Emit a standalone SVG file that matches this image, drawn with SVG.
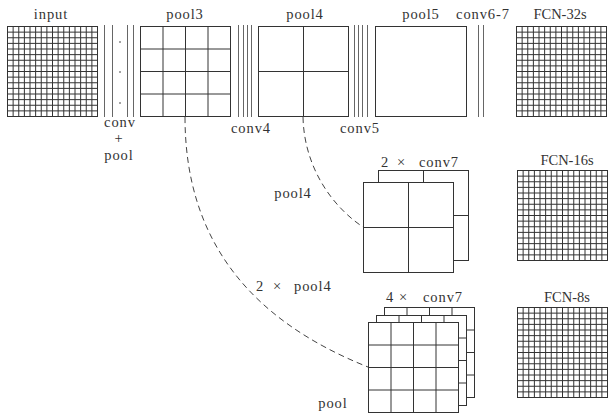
<svg xmlns="http://www.w3.org/2000/svg" xmlns:xlink="http://www.w3.org/1999/xlink" width="608" height="414" viewBox="0 0 608 414">
<style>
.t{font-family:"Liberation Serif","DejaVu Serif",serif;font-size:14.5px;fill:#333;letter-spacing:0.9px}
.u{letter-spacing:0}
.m{text-anchor:middle}
.gl{fill:#fff;stroke:#333;stroke-width:1}
.fl{fill:none;stroke:#333;stroke-width:1}
.cv{stroke:#666;stroke-width:1;fill:none}
.dash{fill:none;stroke:#444;stroke-width:1;stroke-dasharray:6 4}
</style>
<defs>
<g id="fine">
<rect class="gl" x="0" y="0" width="90" height="90"/>
<path class="fl" d="M5.625 0V90M11.25 0V90M16.875 0V90M22.5 0V90M28.125 0V90M33.75 0V90M39.375 0V90M45 0V90M50.625 0V90M56.25 0V90M61.875 0V90M67.5 0V90M73.125 0V90M78.75 0V90M84.375 0V90M0 5.625H90M0 11.25H90M0 16.875H90M0 22.5H90M0 28.125H90M0 33.75H90M0 39.375H90M0 45H90M0 50.625H90M0 56.25H90M0 61.875H90M0 67.5H90M0 73.125H90M0 78.75H90M0 84.375H90"/>
</g>
<g id="g4">
<rect class="gl" x="0" y="0" width="90" height="90"/>
<path class="fl" d="M22.5 0V90M45 0V90M67.5 0V90M0 22.5H90M0 45H90M0 67.5H90"/>
</g>
<g id="g2">
<rect class="gl" x="0" y="0" width="90" height="90"/>
<path class="fl" d="M45 0V90M0 45H90"/>
</g>
</defs>

<g id="connectors">
<path class="dash" d="M185 117C185 240 250 320 368 367"/>
<path class="dash" d="M303 117C304 165 330 205 363 227"/>
</g>

<g id="input">
<text class="t m" x="51" y="19">input</text>
<use xlink:href="#fine" x="7.5" y="26.5"/>
</g>

<g id="conv-pool">
<path class="cv" d="M104.5 25V117M112.5 25V117M127.5 25V117M133.5 25V117"/>
<circle cx="120" cy="42" r="0.8" fill="#333"/>
<circle cx="120" cy="72" r="0.8" fill="#333"/>
<circle cx="120" cy="103" r="0.8" fill="#333"/>
<text class="t m" x="120" y="127">conv</text>
<text class="t m" x="119" y="143">+</text>
<text class="t m" x="119" y="160">pool</text>
</g>

<g id="pool3">
<text class="t m" x="185" y="19">pool3</text>
<use xlink:href="#g4" x="140.5" y="26.5"/>
</g>

<g id="conv4">
<path class="cv" d="M238.5 25V117M243.5 25V117M247.5 25V117M251.5 25V117"/>
<text class="t m" x="251" y="133">conv4</text>
</g>

<g id="pool4">
<text class="t m" x="305" y="19">pool4</text>
<use xlink:href="#g2" x="258.5" y="26.5"/>
</g>

<g id="conv5">
<path class="cv" d="M354.5 25V117M358.5 25V117M362.5 25V117M367.5 25V117"/>
<text class="t m" x="360" y="133">conv5</text>
</g>

<g id="pool5">
<text class="t m" x="421" y="19">pool5</text>
<rect class="gl" x="375.5" y="26.5" width="91" height="90"/>
</g>

<g id="conv6-7">
<path class="cv" d="M478.5 25V117M483.5 25V117"/>
<text class="t m" x="483" y="19">conv6-7</text>
</g>

<g id="fcn32">
<text class="t u m" x="560" y="19">FCN-32s</text>
<use xlink:href="#fine" x="516.5" y="26.5"/>
</g>

<g id="conv7x2">
<text class="t" y="167"><tspan x="381">2</tspan><tspan x="397">×</tspan><tspan x="419">conv7</tspan></text>
<use xlink:href="#g2" x="378.5" y="170.5"/>
<use xlink:href="#g2" x="363.5" y="182.5"/>
</g>

<g id="pool4-label">
<text class="t m" x="293" y="198">pool4</text>
</g>

<g id="fcn16">
<text class="t u m" x="567" y="165">FCN-16s</text>
<use xlink:href="#fine" x="517.5" y="170.5"/>
</g>

<g id="pool4x2">
<text class="t" y="291"><tspan x="256">2</tspan><tspan x="273">×</tspan><tspan x="294">pool4</tspan></text>
</g>

<g id="conv7x4">
<text class="t" y="302"><tspan x="386">4</tspan><tspan x="399">×</tspan><tspan x="423">conv7</tspan></text>
<use xlink:href="#g4" x="384.5" y="307.5"/>
<use xlink:href="#g4" x="376.5" y="315.5"/>
<use xlink:href="#g4" x="368.5" y="322.5"/>
<text class="t m" x="333" y="408">pool</text>
</g>

<g id="fcn8">
<text class="t u m" x="567" y="302">FCN-8s</text>
<use xlink:href="#fine" x="517.5" y="307.5"/>
</g>
</svg>
